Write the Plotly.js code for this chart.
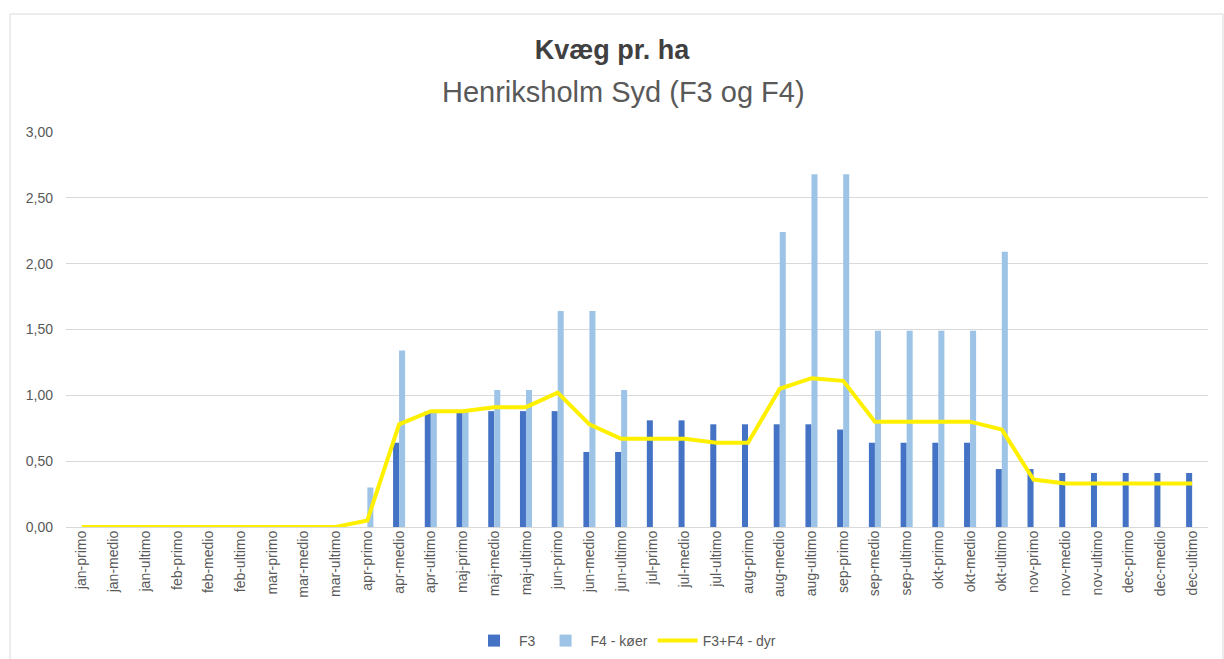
<!DOCTYPE html>
<html><head><meta charset="utf-8">
<script src="https://cdn.plot.ly/plotly-3.0.1.min.js"></script>
<style>body{margin:0;background:#fff}#c{width:1224px;height:659px}</style>
</head><body><div id="c"></div>
<script>
const categories = ["jan-primo","jan-medio","jan-ultimo","feb-primo","feb-medio","feb-ultimo","mar-primo","mar-medio","mar-ultimo","apr-primo","apr-medio","apr-ultimo","maj-primo","maj-medio","maj-ultimo","jun-primo","jun-medio","jun-ultimo","jul-primo","jul-medio","jul-ultimo","aug-primo","aug-medio","aug-ultimo","sep-primo","sep-medio","sep-ultimo","okt-primo","okt-medio","okt-ultimo","nov-primo","nov-medio","nov-ultimo","dec-primo","dec-medio","dec-ultimo"];
const f3 = [0,0,0,0,0,0,0,0,0,0,0.64,0.88,0.88,0.88,0.88,0.88,0.57,0.57,0.81,0.81,0.78,0.78,0.78,0.78,0.74,0.64,0.64,0.64,0.64,0.44,0.44,0.41,0.41,0.41,0.41,0.41];
const f4 = [0,0,0,0,0,0,0,0,0,0.30,1.34,0.88,0.88,1.04,1.04,1.64,1.64,1.04,0,0,0,0,2.24,2.68,2.68,1.49,1.49,1.49,1.49,2.09,0,0,0,0,0,0];
const total = [0,0,0,0,0,0,0,0,0,0.05,0.78,0.88,0.88,0.91,0.91,1.02,0.78,0.67,0.67,0.67,0.64,0.64,1.05,1.13,1.11,0.80,0.80,0.80,0.80,0.74,0.36,0.33,0.33,0.33,0.33,0.33];
const seriesNames = ["F3","F4 - køer","F3+F4 - dyr"];
const chartTitle = "Kvæg pr. ha";
const chartSubtitle = "Henriksholm Syd (F3 og F4)";

const font = "Liberation Sans, Arial, sans-serif";
const data = [
  {type:"bar", name:seriesNames[0], x:categories, y:f3, marker:{color:"#4472C4"}},
  {type:"bar", name:seriesNames[1], x:categories, y:f4, marker:{color:"#9DC3E6"}},
  {type:"scatter", mode:"lines", name:seriesNames[2], x:categories, y:total, line:{color:"#FFF000", width:4}}
];
const layout = {
  width:1224, height:659,
  margin:{l:66, r:16, t:132, b:132},
  paper_bgcolor:"#fff", plot_bgcolor:"#fff",
  font:{family:font, color:"#595959", size:13},
  separators:",.",
  barmode:"group", bargap:0.62, bargroupgap:0,
  showlegend:true,
  legend:{orientation:"h", xref:"container", x:625/1224, xanchor:"center", yref:"container", y:1-641/659, yanchor:"middle", font:{size:14, color:"#595959"}, traceorder:"normal", itemwidth:40},
  title:{text:"<b>"+chartTitle+"</b>", xref:"container", x:0.5, xanchor:"center", yref:"container", y:1-50/659, yanchor:"middle", font:{size:27, color:"#404040", family:font}},
  annotations:[{text:chartSubtitle, xref:"paper", yref:"paper", x:(623-66)/1142, y:(527-92)/395, xanchor:"center", yanchor:"middle", showarrow:false, font:{size:29, color:"#595959", family:font}}],
  xaxis:{type:"category", automargin:false, tickangle:-90, tickfont:{size:14, color:"#595959"}, showgrid:false, showline:false, ticks:"", zeroline:false},
  yaxis:{range:[0,3], automargin:false, dtick:0.5, tickformat:".2f", gridcolor:"#d9d9d9", gridwidth:1, zeroline:true, zerolinecolor:"#d9d9d9", zerolinewidth:1, showline:false, ticks:"", ticklabelstandoff:12, tickfont:{size:14, color:"#595959"}},
  shapes:[{type:"rect", xref:"paper", yref:"paper", x0:(10-66)/1142, x1:(1223-66)/1142, y0:(527-660)/395, y1:(527-14)/395, line:{color:"#d9d9d9", width:1}, fillcolor:"rgba(0,0,0,0)", layer:"below"}]
};
Plotly.newPlot("c", data, layout, {staticPlot:true});
</script></body></html>
